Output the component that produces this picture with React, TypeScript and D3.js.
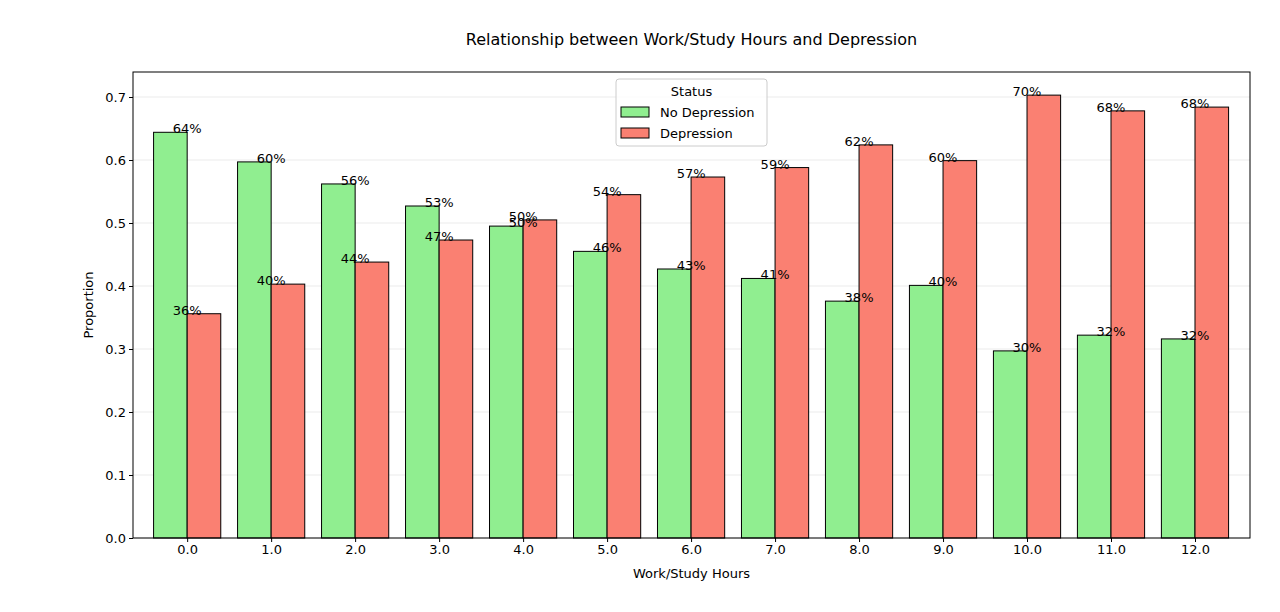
import { useEffect, useRef } from 'react';
import * as d3 from 'd3';

const hours = [0, 1, 2, 3, 4, 5, 6, 7, 8, 9, 10, 11, 12];
const noDepression = [0.644, 0.597, 0.562, 0.527, 0.4951, 0.455, 0.427, 0.412, 0.376, 0.401, 0.297, 0.322, 0.316];
const depression = noDepression.map(v => 1 - v);
const yTicks = [0, 0.1, 0.2, 0.3, 0.4, 0.5, 0.6, 0.7];
const series = [
  { name: 'No Depression', values: noDepression, color: '#90ee90', offset: -1 },
  { name: 'Depression', values: depression, color: '#fa8072', offset: 0 },
];

export default function App() {
  const svgRef = useRef<SVGSVGElement>(null);

  useEffect(() => {
    const svg = d3.select(svgRef.current);
    svg.selectAll('*').remove();
    const left = 133, right = 1250, top = 72, bottom = 538;
    const x = d3.scaleLinear().domain([-0.645, 12.655]).range([left, right]);
    const y = d3.scaleLinear().domain([0, 0.7397]).range([bottom, top]);
    const bw = x(0.4) - x(0);
    const font = 'DejaVu Sans, sans-serif';

    svg.append('g').selectAll('line').data(yTicks).enter().append('line')
      .attr('x1', left).attr('x2', right).attr('y1', d => y(d)).attr('y2', d => y(d))
      .attr('stroke', '#e6e6e6').attr('stroke-width', 0.8);

    series.forEach(s => {
      svg.append('g').selectAll('rect').data(s.values).enter().append('rect')
        .attr('x', (d, i) => x(hours[i]) + s.offset * bw)
        .attr('y', d => y(d)).attr('width', bw).attr('height', d => bottom - y(d))
        .attr('fill', s.color).attr('stroke', 'black').attr('stroke-width', 1);
    });
    series.forEach(s => {
      svg.append('g').selectAll('text').data(s.values).enter().append('text')
        .attr('x', (d, i) => x(hours[i])).attr('y', d => y(d) + 1)
        .attr('text-anchor', 'middle').attr('font-family', font).attr('font-size', 13)
        .text(d => `${Math.round(d * 100)}%`);
    });

    svg.append('rect').attr('x', left).attr('y', top).attr('width', right - left).attr('height', bottom - top)
      .attr('fill', 'none').attr('stroke', 'black').attr('stroke-width', 1);

    const xa = svg.append('g').attr('transform', `translate(0,${bottom})`)
      .call(d3.axisBottom(x).tickValues(hours).tickFormat(d => (+d).toFixed(1)).tickSizeOuter(0).tickSize(4));
    const ya = svg.append('g').attr('transform', `translate(${left},0)`)
      .call(d3.axisLeft(y).tickValues(yTicks).tickFormat(d => (+d).toFixed(1)).tickSizeOuter(0).tickSize(4));
    [xa, ya].forEach(a => {
      a.select('.domain').remove();
      a.selectAll('text').attr('font-family', font).attr('font-size', 13).attr('fill', 'black');
      a.selectAll('line').attr('stroke', 'black');
    });

    svg.append('text').attr('x', (left + right) / 2).attr('y', 578).attr('text-anchor', 'middle')
      .attr('font-family', font).attr('font-size', 13).text('Work/Study Hours');
    svg.append('text').attr('transform', `translate(93,${(top + bottom) / 2}) rotate(-90)`)
      .attr('text-anchor', 'middle').attr('font-family', font).attr('font-size', 13).text('Proportion');
    svg.append('text').attr('x', (left + right) / 2).attr('y', 45).attr('text-anchor', 'middle')
      .attr('font-family', font).attr('font-size', 16).text('Relationship between Work/Study Hours and Depression');

    const lg = svg.append('g').attr('transform', 'translate(616,79)');
    lg.append('rect').attr('width', 151).attr('height', 67).attr('rx', 3).attr('fill', 'white')
      .attr('fill-opacity', 0.8).attr('stroke', '#cccccc');
    lg.append('text').attr('x', 75.5).attr('y', 17).attr('text-anchor', 'middle')
      .attr('font-family', font).attr('font-size', 13).text('Status');
    series.forEach((s, i) => {
      lg.append('rect').attr('x', 5).attr('y', 28 + i * 21).attr('width', 28).attr('height', 10)
        .attr('fill', s.color).attr('stroke', 'black');
      lg.append('text').attr('x', 44).attr('y', 38 + i * 21).attr('font-family', font)
        .attr('font-size', 13).text(s.name);
    });
  }, []);

  return <svg ref={svgRef} width={1280} height={612} style={{ position: 'absolute', left: 0, top: 0 }} />;
}
